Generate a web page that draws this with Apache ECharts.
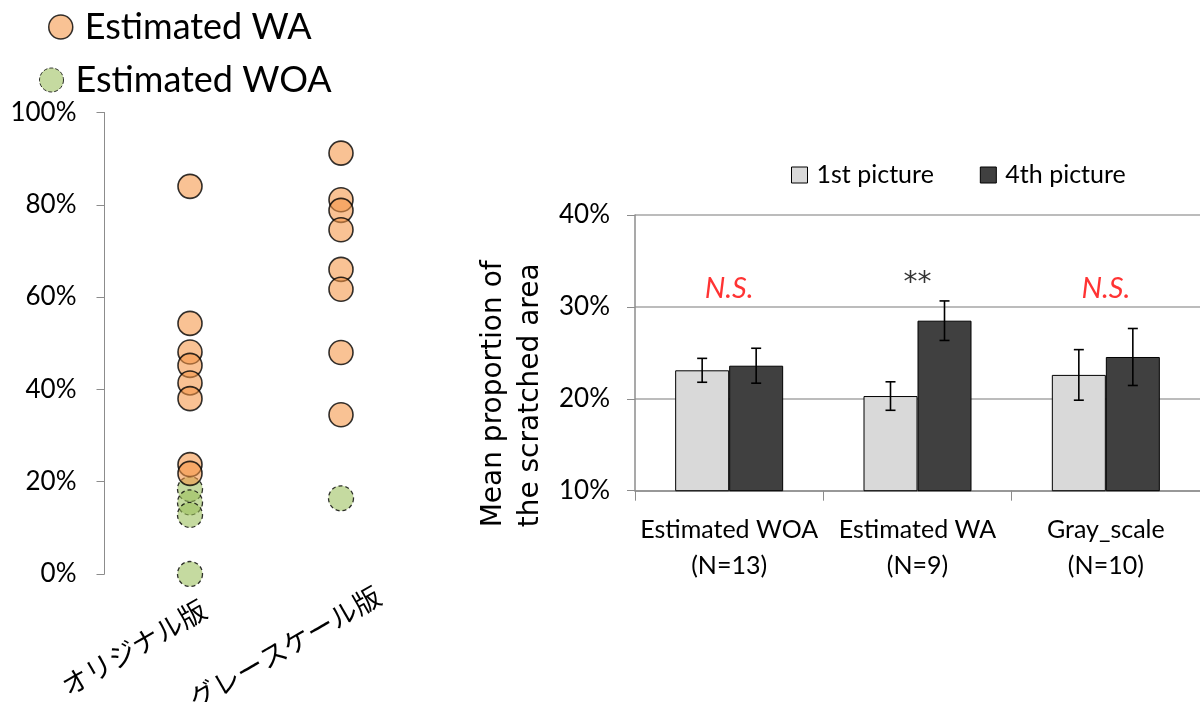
<!DOCTYPE html>
<html>
<head>
<meta charset="utf-8">
<script src="https://cdn.jsdelivr.net/npm/echarts@6/dist/echarts.min.js"></script>
<style>
html,body{margin:0;padding:0;background:#fff;}
#chart{width:1200px;height:702px;}
</style>
</head>
<body>
<div id="chart"></div>
<script>
// ---------- Left chart data ----------
const versionCategories = ['オリジナル版', 'グレースケール版'];
const waOriginal = [84.0, 54.3, 48.1, 45.2, 41.4, 38.0, 23.7, 21.8];
const waGray = [91.2, 81.1, 78.8, 74.6, 66.0, 61.7, 48.0, 34.5];
const woaOriginal = [18.4, 15.5, 12.8, 0.0];
const woaGray = [16.4];

// ---------- Right chart data ----------
const groupCategories = ['Estimated WOA\n(N=13)', 'Estimated WA\n(N=9)', 'Gray_scale\n(N=10)'];
const firstPicture = [23.1, 20.3, 22.6];
const firstPictureErr = [1.3, 1.55, 2.75];
const fourthPicture = [23.6, 28.5, 24.55];
const fourthPictureErr = [1.9, 2.15, 3.1];
const significance = ['N.S.', '**', 'N.S.'];

const ORANGE = 'rgba(245,150,70,0.72)';
const GREEN = 'rgba(155,190,90,0.72)';
const AXIS_GRAY = '#8c8c8c';
const LATIN = 'Lato, "Open Sans", sans-serif';

function toPoints(idx, arr) { return arr.map(v => [idx, v]); }

const BAR_W = 54;
function errorBarSeries(name, vals, errs, off) {
  return {
    name: name + ' error',
    type: 'custom',
    xAxisIndex: 1, yAxisIndex: 1,
    z: 5,
    data: vals.map((v, i) => [i, v - errs[i], v + errs[i]]),
    renderItem: function (params, api) {
      const lo = api.coord([api.value(0), api.value(1)]);
      const hi = api.coord([api.value(0), api.value(2)]);
      const x = lo[0] + off;
      const cap = 5;
      const st = { stroke: '#000', lineWidth: 1.6 };
      return {
        type: 'group',
        children: [
          { type: 'line', shape: { x1: x, y1: lo[1], x2: x, y2: hi[1] }, style: st },
          { type: 'line', shape: { x1: x - cap, y1: lo[1], x2: x + cap, y2: lo[1] }, style: st },
          { type: 'line', shape: { x1: x - cap, y1: hi[1], x2: x + cap, y2: hi[1] }, style: st }
        ]
      };
    }
  };
}

const chart = echarts.init(document.getElementById('chart'));
const option = {
  animation: false,
  backgroundColor: '#fff',
  grid: [
    { left: 114.5, width: 302, top: 112.5, bottom: 128, containLabel: false, outerBoundsMode: 'none' },
    { left: 635, right: 0, top: 215, bottom: 211.3, containLabel: false, outerBoundsMode: 'none' }
  ],
  legend: [
    {
      data: [{ name: 'Estimated WA', icon: 'circle',
        itemStyle: { color: ORANGE, borderColor: '#000', borderWidth: 1.5, borderType: 'solid' } }],
      left: 48, top: 9, padding: 0,
      itemWidth: 24, itemHeight: 24,
      textStyle: { fontFamily: LATIN, fontSize: 36, lineHeight: 36, color: '#000', padding: [0, 0, 0, 7] }
    },
    {
      data: [{ name: 'Estimated WOA', icon: 'circle',
        itemStyle: { color: GREEN, borderColor: '#000', borderWidth: 1, borderType: 'dashed' } }],
      left: 39, top: 62, padding: 0,
      itemWidth: 24, itemHeight: 24,
      textStyle: { fontFamily: LATIN, fontSize: 36, lineHeight: 36, color: '#000', padding: [0, 0, 0, 7] }
    },
    {
      data: ['1st picture', '4th picture'],
      left: 791, top: 157, padding: 0,
      itemWidth: 16, itemHeight: 16, itemGap: 46, icon: 'rect',
      itemStyle: { borderColor: '#000', borderWidth: 1 },
      textStyle: { fontFamily: LATIN, fontSize: 25, lineHeight: 36, color: '#000', padding: [0, 0, 0, 4] }
    }
  ],
  xAxis: [
    {
      type: 'category', gridIndex: 0, data: versionCategories,
      axisLine: { show: false }, axisTick: { show: false },
      axisLabel: {
        interval: 0, rotate: 30, align: 'center', verticalAlign: 'middle',
        margin: 41, padding: [0, 130, 0, 0],
        fontFamily: '"Noto Sans CJK JP", sans-serif', fontSize: 27, color: '#000'
      }
    },
    {
      type: 'category', gridIndex: 1, data: groupCategories,
      axisLine: { show: true, lineStyle: { color: AXIS_GRAY, width: 1.5 } },
      axisTick: { show: true, length: 10, lineStyle: { color: AXIS_GRAY } },
      axisLabel: { interval: 0, margin: 21, fontFamily: LATIN, fontSize: 25, lineHeight: 36, color: '#000' }
    }
  ],
  yAxis: [
    {
      type: 'value', gridIndex: 0, min: 0, max: 100, interval: 20, offset: 10,
      axisLine: { show: true, lineStyle: { color: AXIS_GRAY, width: 1 } },
      axisTick: { show: true, length: 8, lineStyle: { color: AXIS_GRAY } },
      splitLine: { show: false },
      axisLabel: { formatter: '{value}%', margin: 28, fontFamily: LATIN, fontSize: 26, color: '#000' }
    },
    {
      type: 'value', gridIndex: 1, min: 10, max: 40, interval: 10,
      axisLine: { show: true, lineStyle: { color: AXIS_GRAY, width: 1.5 } },
      axisTick: { show: true, length: 8, lineStyle: { color: AXIS_GRAY } },
      splitLine: { show: true, lineStyle: { color: '#a6a6a6', width: 1.5 } },
      axisLabel: { formatter: '{value}%', margin: 25, fontFamily: LATIN, fontSize: 26, color: '#000' },
      name: '{a|Mean proportion of}\n{a|the scratched area}',
      nameLocation: 'middle', nameRotate: 90, nameGap: 86,
      nameMoveOverlap: false,
      nameTextStyle: {
        fontFamily: '"DejaVu Sans", sans-serif', fontSize: 28, lineHeight: 37, color: '#000',
        align: 'center', verticalAlign: 'bottom', padding: [0, 82, 0, 0],
        rich: { a: { fontFamily: '"DejaVu Sans", sans-serif', fontSize: 28, lineHeight: 37, color: '#000', align: 'left' } }
      }
    }
  ],
  series: [
    {
      name: 'Estimated WOA', type: 'scatter', xAxisIndex: 0, yAxisIndex: 0, z: 2,
      symbol: 'circle', symbolSize: 25,
      itemStyle: { color: GREEN, borderColor: '#000', borderWidth: 1.3, borderType: [4, 3] },
      data: toPoints(0, woaOriginal).concat(toPoints(1, woaGray))
    },
    {
      name: 'Estimated WA', type: 'scatter', xAxisIndex: 0, yAxisIndex: 0, z: 3,
      symbol: 'circle', symbolSize: 24,
      itemStyle: { color: ORANGE, borderColor: '#000', borderWidth: 1.6 },
      data: toPoints(0, waOriginal).concat(toPoints(1, waGray))
    },
    {
      name: '1st picture', type: 'bar', xAxisIndex: 1, yAxisIndex: 1,
      barWidth: BAR_W, barGap: '0%',
      itemStyle: { color: '#d9d9d9', borderColor: '#000', borderWidth: 1 },
      data: firstPicture
    },
    {
      name: '4th picture', type: 'bar', xAxisIndex: 1, yAxisIndex: 1,
      barWidth: BAR_W, barGap: '0%',
      itemStyle: { color: '#404040', borderColor: '#000', borderWidth: 1 },
      data: fourthPicture
    },
    errorBarSeries('1st picture', firstPicture, firstPictureErr, -BAR_W / 2),
    errorBarSeries('4th picture', fourthPicture, fourthPictureErr, BAR_W / 2),
    {
      name: 'significance', type: 'scatter', xAxisIndex: 1, yAxisIndex: 1,
      symbolSize: 1, itemStyle: { color: 'rgba(0,0,0,0)' }, silent: true,
      data: significance.map((s, i) => ({
        value: [i, 32],
        label: s === '**'
          ? { color: '#000', fontStyle: 'normal', fontFamily: '"DejaVu Sans", sans-serif', fontSize: 28, offset: [0, -5] }
          : { color: '#ff0000', fontStyle: 'italic', fontSize: 29 }
      })),
      label: {
        show: true, position: 'inside', fontFamily: LATIN, fontSize: 27,
        formatter: p => significance[p.dataIndex]
      }
    }
  ]
};
chart.setOption(option);
</script>
</body>
</html>
